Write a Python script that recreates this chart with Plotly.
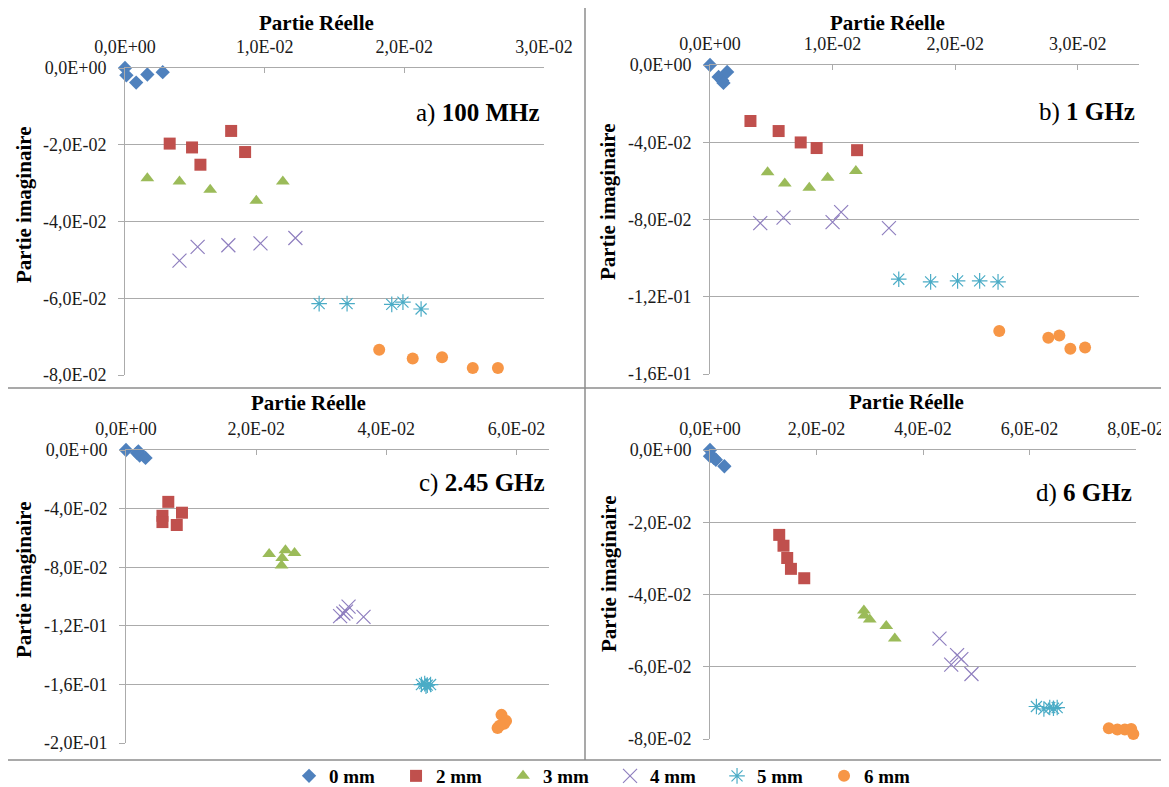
import plotly.graph_objects as go

SERIES = ["0 mm", "2 mm", "3 mm", "4 mm", "5 mm", "6 mm"]
COLORS = ["#4F81BD", "#C0504D", "#9BBB59", "#8F7FBF", "#4BACC6", "#F79646"]
SYMBOLS = ["diamond", "square", "triangle-up", "x-thin-open", "asterisk-open", "circle"]
SIZES = [11, 12, 12, 14, 13, 12]

# Panel a) 100 MHz
A_REAL = [
    [0.0, 0.0001, 0.0008, 0.0016, 0.0027],
    [0.0032, 0.0048, 0.0054, 0.0076, 0.0086],
    [0.0016, 0.0039, 0.0061, 0.0094, 0.0113],
    [0.0039, 0.0052, 0.0074, 0.0097, 0.0122],
    [0.0139, 0.0159, 0.0191, 0.0199, 0.0212],
    [0.0182, 0.0206, 0.0227, 0.0249, 0.0267],
]
A_IMAG = [
    [0.0, -0.0019, -0.0038, -0.0017, -0.0011],
    [-0.0197, -0.0207, -0.0252, -0.0164, -0.0219],
    [-0.0287, -0.0296, -0.0317, -0.0346, -0.0296],
    [-0.0502, -0.0466, -0.0462, -0.0457, -0.0443],
    [-0.0614, -0.0614, -0.0616, -0.0610, -0.0628],
    [-0.0734, -0.0757, -0.0754, -0.0782, -0.0782],
]

# Panel b) 1 GHz
B_REAL = [
    [0.0, 0.0007, 0.0010, 0.0011, 0.0014],
    [0.0033, 0.0056, 0.0074, 0.0087, 0.0120],
    [0.0047, 0.0061, 0.0081, 0.0096, 0.0119],
    [0.0041, 0.0060, 0.0100, 0.0107, 0.0146],
    [0.0154, 0.0180, 0.0202, 0.0220, 0.0235],
    [0.0236, 0.0276, 0.0285, 0.0294, 0.0306],
]
B_IMAG = [
    [0.0, -0.0062, -0.0080, -0.0093, -0.0036],
    [-0.0290, -0.0342, -0.0401, -0.0430, -0.0441],
    [-0.0555, -0.0613, -0.0636, -0.0584, -0.0549],
    [-0.0819, -0.0790, -0.0814, -0.0762, -0.0845],
    [-0.1109, -0.1123, -0.1118, -0.1118, -0.1123],
    [-0.1377, -0.1412, -0.1401, -0.1469, -0.1463],
]

# Panel c) 2.45 GHz
C_REAL = [
    [0.0, 0.0017, 0.0019, 0.0021, 0.0030],
    [0.0065, 0.0056, 0.0056, 0.0078, 0.0086],
    [0.0220, 0.0245, 0.0240, 0.0239, 0.0259],
    [0.0329, 0.0338, 0.0342, 0.0365, 0.0334],
    [0.0454, 0.0459, 0.0463, 0.0468, 0.0461],
    [0.0577, 0.0584, 0.0581, 0.0571, 0.0574],
]
C_IMAG = [
    [0.0, -0.0020, -0.0009, -0.0038, -0.0054],
    [-0.0354, -0.0449, -0.0492, -0.0512, -0.0428],
    [-0.0710, -0.0685, -0.0737, -0.0789, -0.0703],
    [-0.1134, -0.1103, -0.1069, -0.1139, -0.1116],
    [-0.1601, -0.1595, -0.1605, -0.1601, -0.1612],
    [-0.1808, -0.1849, -0.1869, -0.1898, -0.1883],
]

# Panel d) 6 GHz
D_REAL = [
    [0.0, 0.0, 0.0007, 0.0011, 0.0027],
    [0.0130, 0.0138, 0.0145, 0.0152, 0.0177],
    [0.0289, 0.0290, 0.0300, 0.0331, 0.0347],
    [0.0431, 0.0464, 0.0472, 0.0453, 0.0491],
    [0.0613, 0.0627, 0.0638, 0.0652, 0.0645],
    [0.0749, 0.0765, 0.0779, 0.0791, 0.0795],
]
D_IMAG = [
    [0.0, -0.0017, -0.0022, -0.0027, -0.0045],
    [-0.0235, -0.0265, -0.0299, -0.0329, -0.0355],
    [-0.0444, -0.0458, -0.0469, -0.0487, -0.0522],
    [-0.0522, -0.0568, -0.0579, -0.0594, -0.0620],
    [-0.0710, -0.0717, -0.0713, -0.0713, -0.0715],
    [-0.0770, -0.0774, -0.0774, -0.0772, -0.0786],
]

PANEL_LABELS = [("a) ", "100 MHz"), ("b) ", "1 GHz"), ("c) ", "2.45 GHz"), ("d) ", "6 GHz")]

A_XTICKS = [0.0, 0.01, 0.02, 0.03]
A_XTEXT = ["0,0E+00", "1,0E-02", "2,0E-02", "3,0E-02"]
A_YTICKS = [0.0, -0.02, -0.04, -0.06, -0.08]
A_YTEXT = ["0,0E+00", "-2,0E-02", "-4,0E-02", "-6,0E-02", "-8,0E-02"]

B_XTICKS = [0.0, 0.01, 0.02, 0.03]
B_XTEXT = ["0,0E+00", "1,0E-02", "2,0E-02", "3,0E-02"]
B_YTICKS = [0.0, -0.04, -0.08, -0.12, -0.16]
B_YTEXT = ["0,0E+00", "-4,0E-02", "-8,0E-02", "-1,2E-01", "-1,6E-01"]

C_XTICKS = [0.0, 0.02, 0.04, 0.06]
C_XTEXT = ["0,0E+00", "2,0E-02", "4,0E-02", "6,0E-02"]
C_YTICKS = [0.0, -0.04, -0.08, -0.12, -0.16, -0.20]
C_YTEXT = ["0,0E+00", "-4,0E-02", "-8,0E-02", "-1,2E-01", "-1,6E-01", "-2,0E-01"]

D_XTICKS = [0.0, 0.02, 0.04, 0.06, 0.08]
D_XTEXT = ["0,0E+00", "2,0E-02", "4,0E-02", "6,0E-02", "8,0E-02"]
D_YTICKS = [0.0, -0.02, -0.04, -0.06, -0.08]
D_YTEXT = ["0,0E+00", "-2,0E-02", "-4,0E-02", "-6,0E-02", "-8,0E-02"]

W, H = 1169, 787
FONT = "Liberation Serif"
GRID = "#ABABAB"


def px_x(p):
    return p / W


def px_y(p):
    return 1 - p / H


panels = [
    dict(real=A_REAL, imag=A_IMAG, xt=A_XTICKS, xl=A_XTEXT, yt=A_YTICKS, yl=A_YTEXT,
         xr=[0, 0.03], yr=[-0.08, 0], box=(117, 536, 60, 367), xtitle=(308, 15), ytitle=(16, 197), lab_y=105),
    dict(real=B_REAL, imag=B_IMAG, xt=B_XTICKS, xl=B_XTEXT, yt=B_YTICKS, yl=B_YTEXT,
         xr=[0, 0.035], yr=[-0.16, 0], box=(702, 1131, 57, 366), xtitle=(879, 15), ytitle=(600, 194), lab_y=104),
    dict(real=C_REAL, imag=C_IMAG, xt=C_XTICKS, xl=C_XTEXT, yt=C_YTICKS, yl=C_YTEXT,
         xr=[0, 0.065], yr=[-0.2, 0], box=(118, 541, 442, 735), xtitle=(300, 395), ytitle=(16, 572), lab_y=475),
    dict(real=D_REAL, imag=D_IMAG, xt=D_XTICKS, xl=D_XTEXT, yt=D_YTICKS, yl=D_YTEXT,
         xr=[0, 0.08], yr=[-0.08, 0], box=(702, 1128, 442, 731), xtitle=(898, 394), ytitle=(601, 566), lab_y=485),
]

fig = go.Figure()
layout = {}
annotations = []

for i, p in enumerate(panels):
    n = "" if i == 0 else str(i + 1)
    xa, ya = "x" + n, "y" + n
    x0, x1, y0, y1 = p["box"]
    for s in range(len(SERIES)):
        open_sym = SYMBOLS[s].endswith("open")
        fig.add_trace(go.Scatter(
            x=p["real"][s], y=p["imag"][s], mode="markers", name=SERIES[s],
            legendgroup=SERIES[s], showlegend=(i == 0), cliponaxis=False,
            xaxis=xa, yaxis=ya,
            marker=dict(symbol=SYMBOLS[s], size=SIZES[s], color=COLORS[s],
                        line=dict(width=1.2 if open_sym else 0, color=COLORS[s])),
        ))
    layout["xaxis" + n] = dict(
        domain=[px_x(x0), px_x(x1)], anchor=ya, side="top", range=p["xr"], automargin=False,
        tickvals=p["xt"], ticktext=p["xl"], showgrid=False, zeroline=False,
        showline=True, linecolor=GRID, linewidth=1, ticks="inside", ticklen=5,
        tickcolor=GRID, ticklabelstandoff=7,
        tickfont=dict(family=FONT, size=18, color="#1a1a1a"),
    )
    layout["yaxis" + n] = dict(
        domain=[px_y(y1), px_y(y0)], anchor=xa, range=p["yr"], automargin=False,
        tickvals=p["yt"], ticktext=p["yl"], showgrid=True, gridcolor=GRID, gridwidth=1,
        zeroline=False, showline=True, linecolor=GRID, linewidth=1,
        ticks="outside", ticklen=6, tickcolor=GRID, ticklabelstandoff=8,
        tickfont=dict(family=FONT, size=18, color="#1a1a1a"),
    )
    tx, ty = p["xtitle"]
    annotations.append(dict(text="<b>Partie Réelle</b>", x=px_x(tx), y=px_y(ty), xref="paper", yref="paper",
                            showarrow=False, xanchor="center", yanchor="middle",
                            font=dict(family=FONT, size=21, color="#000")))
    yx, yy = p["ytitle"]
    annotations.append(dict(text="<b>Partie imaginaire</b>", x=px_x(yx), y=px_y(yy), xref="paper", yref="paper",
                            showarrow=False, xanchor="center", yanchor="middle", textangle=-90,
                            font=dict(family=FONT, size=21, color="#000")))
    pre, bold = PANEL_LABELS[i]
    annotations.append(dict(text=pre + "<b>" + bold + "</b>", x=px_x(x1 - 2), y=px_y(p["lab_y"]),
                            xref="paper", yref="paper", showarrow=False, xanchor="right", yanchor="middle",
                            font=dict(family=FONT, size=25, color="#000")))

shapes = [
    dict(type="line", xref="paper", yref="paper", x0=0, x1=1, y0=px_y(380), y1=px_y(380),
         line=dict(color="#8C8C8C", width=1.5)),
    dict(type="line", xref="paper", yref="paper", x0=px_x(577), x1=px_x(577), y0=px_y(752), y1=1,
         line=dict(color="#8C8C8C", width=1.5)),
    dict(type="line", xref="paper", yref="paper", x0=0, x1=1, y0=px_y(752), y1=px_y(752),
         line=dict(color="#8C8C8C", width=1.5)),
]

fig.update_layout(
    width=W, height=H, autosize=False,
    margin=dict(l=0, r=0, t=0, b=0, autoexpand=False),
    paper_bgcolor="white", plot_bgcolor="white",
    annotations=annotations, shapes=shapes,
    legend=dict(orientation="h", x=0.515, xanchor="center", y=0.0, yanchor="bottom",
                font=dict(family=FONT, size=19, color="#000", weight="bold"),
                entrywidth=62, entrywidthmode="pixels", itemsizing="trace", itemwidth=30,
                bgcolor="rgba(0,0,0,0)"),
    **layout,
)

fig.write_html("out.html")
